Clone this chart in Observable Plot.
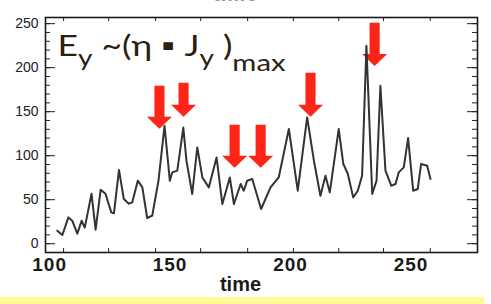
<!DOCTYPE html>
<html><head><meta charset="utf-8">
<script src="https://cdn.jsdelivr.net/npm/d3@7"></script>
<script src="https://cdn.jsdelivr.net/npm/@observablehq/plot@0.6"></script>
<style>
html,body{margin:0;padding:0;background:#fff;overflow:hidden;}
#wrap{position:relative;width:491px;}
#band{width:484px;height:7px;background:#fffb96;}
#cut{position:absolute;left:213px;top:-17px;font:bold 20px "Liberation Sans",Arial,sans-serif;color:#8595b8;letter-spacing:1px;}
.xl text{letter-spacing:1px;}
</style></head><body>
<div id="wrap"><div id="cut">time</div><div id="chart"></div></div><div id="band"></div>
<script>
// time series of E_y ~ (eta * J_y)_max
const time = [103.2,105.3,107.8,109.4,111.5,113.3,114.6,117.4,119.1,121.2,123.2,125.6,126.7,128.8,130.8,132.9,134.3,136.6,138.5,140.5,142.6,145.2,147.7,149.9,150.9,153.0,155.5,156.8,159.2,161.3,163.4,166.1,169.3,171.7,174.8,176.5,179.3,180.6,182.0,184.1,187.8,191.7,195.1,199.3,203.0,206.9,209.7,212.4,214.5,216.3,220.0,221.9,223.8,226.0,227.9,229.7,231.5,233.9,235.7,237.3,239.4,241.8,243.6,244.9,247.0,248.8,250.9,252.8,254.2,256.7,258.1];
const ey = [14.8,9.9,29.9,26.1,11.4,26.1,18.2,56.8,15.9,61.4,56.8,35.6,34.4,83.8,50.8,45.5,46.9,71.6,64.0,29.2,31.8,71.6,134.0,71.6,81.0,83.0,132.0,94.3,56.5,109.4,75.3,64.0,98.0,45.1,75.3,45.1,67.8,60.2,71.6,73.5,39.4,64.0,75.3,130.3,60.2,143.5,94.3,54.5,77.3,58.3,130.3,90.6,79.2,52.6,60.2,77.3,225.0,56.5,71.6,179.5,83.0,65.9,67.8,81.0,86.7,120.0,60.2,62.2,90.6,88.6,73.5];

// red arrows (time, top of shaft, tip)
const arrowTime = [145.6,155.6,176.8,187.6,208.3,234.9];
const arrowTop  = [179.5,183.0,135.2,135.2,194.3,251.0];
const arrowTip  = [130.7,144.3,86.4,86.4,144.3,202.0];

// axes
const xLabels = [100,150,200,250];
const xTicks = [105.8,124.5,144.0,162.7,182.2,201.2,220.0,238.6,258.0];
const yLabels = [0,50,100,150,200,250];
const yMinor = [0,10,20,30,40,50,60,70,80,90,100,110,120,130,140,150,160,170,180,190,200,210,220,230,240,250];

const series = time.map((t,i)=>({t, v: ey[i]}));
const headH = 13.5, headW = 5.2, shaftW = 2.1;
const arrowPts = [];
arrowTime.forEach((c,i)=>{
  const base = arrowTip[i] + headH, top = arrowTop[i];
  [[c-shaftW,top],[c+shaftW,top],[c+shaftW,base],[c+headW,base],[c,arrowTip[i]],[c-headW,base],[c-shaftW,base]]
    .forEach(([x,y])=>arrowPts.push({id:i,x,y}));
});

const W = 432, H = 235;
const chart = Plot.plot({
  width: 491, height: 297,
  marginLeft: 45, marginRight: 14, marginTop: 17, marginBottom: 45,
  x: {domain: [98.3, 277.6], axis: null},
  y: {domain: [-10, 257], axis: null},
  style: {background: "white", fontFamily: "'Liberation Sans', Arial, sans-serif"},
  marks: [
    Plot.line(arrowPts, {x:"x", y:"y", z:"id", fill:"#ff2418", stroke:"none", curve:"linear"}),
    Plot.line(series, {x:"t", y:"v", stroke:"#333", strokeWidth:2, curve:"linear"}),
    Plot.tickY(yMinor, {y:d=>d, insetRight: W-5, stroke:"#222"}),
    Plot.tickY(yMinor, {y:d=>d, insetLeft: W-5, stroke:"#222"}),
    Plot.tickY(yLabels, {y:d=>d, insetRight: W-10, stroke:"#222"}),
    Plot.tickY(yLabels, {y:d=>d, insetLeft: W-10, stroke:"#222"}),
    Plot.tickX(xTicks, {x:d=>d, insetTop: H-4, stroke:"#222"}),
    Plot.tickX(xTicks, {x:d=>d, insetBottom: H-4, stroke:"#222"}),
    Plot.frame({stroke:"#1a1a1a", strokeWidth:1.6}),
    Plot.text(yLabels, {y:d=>d, text:d=>String(d), frameAnchor:"left", dx:-7, textAnchor:"end", fontSize:14, fill:"#222"}),
    Plot.text(xLabels, {x:d=>d, text:d=>String(d), frameAnchor:"bottom", dy:18, fontSize:19, fontWeight:"bold", fill:"#1a1a1a", className:"xl"}),
    Plot.text(["time"], {text:d=>d, frameAnchor:"bottom", dx:-21, dy:38, fontSize:20, fontWeight:"bold", fill:"#1a1a1a"})
  ]
});
document.getElementById("chart").appendChild(chart);

// formula annotation
const sx = chart.scale("x"), sy = chart.scale("y");
const svg = d3.select(chart);
const tx = svg.append("text")
  .attr("transform", `translate(${sx.apply(103.5)},${sy.apply(212.5)}) scale(1.22,1)`)
  .attr("text-anchor", "start")
  .attr("font-family", "Lato, 'Open Sans', sans-serif")
  .attr("font-size", 29).attr("fill", "#2a2010");
tx.append("tspan").text("E");
tx.append("tspan").attr("font-size", 23).attr("dy", 10).text("y");
tx.append("tspan").attr("dy", -10).text(" ~(η ▪ J");
tx.append("tspan").attr("font-size", 23).attr("dy", 10).text("y");
tx.append("tspan").attr("dy", -10).text(" )");
tx.append("tspan").attr("font-size", 24).attr("dy", 15).text("max");
</script>
</body></html>
